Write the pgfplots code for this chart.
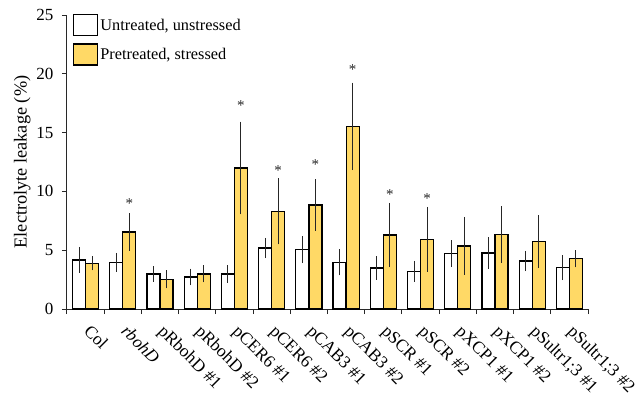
\documentclass[border=0pt]{standalone}
\usepackage{pgfplots}
\pgfplotsset{compat=1.18}
\usepackage{fontspec}
\setmainfont{Liberation Serif}
\definecolor{baryel}{RGB}{255,217,102}
\definecolor{axgray}{RGB}{40,40,40}
\begin{document}
\begin{tikzpicture}
\path[use as bounding box] (-67pt,-91pt) rectangle (573pt,309pt);
\begin{axis}[
  at={(0pt,0pt)}, anchor=south west,
  scale only axis,
  width=521pt, height=294pt,
  xmin=-0.5, xmax=13.5,
  ymin=0, ymax=25,
  ytick={0,5,10,15,20,25},
  axis lines*=left,
  axis line style={axgray, line width=1pt},
  tick align=outside,
  tick style={axgray, line width=1pt},
  major tick length=5pt,
  minor tick length=5pt,
  xtick={0,...,13},
  xticklabels={Col,\textit{rbohD},pRbohD \#1,pRbohD \#2,pCER6 \#1,pCER6 \#2,pCAB3 \#1,pCAB3 \#2,pSCR \#1,pSCR \#2,pXCP1 \#1,pXCP1 \#2,pSultr1;3 \#1,pSultr1;3 \#2},
  x tick style={draw=none},
  minor xtick={-0.5,0.5,...,13.5},
  minor x tick style={draw=axgray, line width=1pt},
  xticklabel style={rotate=-45, anchor=base west, font=\fontsize{17.5}{20}\selectfont, inner sep=0pt, xshift=10.8pt, yshift=-14.6pt},
  yticklabel style={font=\fontsize{17}{20}\selectfont, xshift=-5pt},
  /pgf/number format/assume math mode=true,
  ylabel={Electrolyte leakage (\%)},
  ylabel style={font=\fontsize{18.3}{21}\selectfont, yshift=-1pt},
  legend style={draw=none, fill=none, at={(rel axis cs:0,1)}, anchor=north west,
    xshift=6pt, yshift=1pt, font=\fontsize{16.3}{19}\selectfont, row sep=7pt, inner sep=0pt,
    cells={anchor=west}},
  legend image code/.code={\draw[#1, line width=1.2pt] (0pt,-10.5pt) rectangle (24pt,10.5pt);},
  error bars/y dir=both,
  error bars/y explicit,
  error bars/error bar style={line width=1pt, black!85},
  error bars/error mark options={mark size=3pt, line width=1pt, black!85},
]
\addplot[ybar, bar width=13pt, bar shift=0pt, fill=white, draw=black, line width=1.2pt]
coordinates {
(-0.175,4.17) +- (0,0.85)
(0.825,3.97) +- (0,0.55)
(1.825,2.98) +- (0,0.40)
(2.825,2.72) +- (0,0.45)
(3.825,2.98) +- (0,0.50)
(4.825,5.19) +- (0,0.60)
(5.825,5.04) +- (0,0.88)
(6.825,3.97) +- (0,0.85)
(7.825,3.49) +- (0,0.76)
(8.825,3.20) +- (0,0.63)
(9.825,4.70) +- (0,0.88)
(10.825,4.76) +- (0,1.10)
(11.825,4.08) +- (0,0.60)
(12.825,3.51) +- (0,0.79)
};
\addlegendentry{Untreated, unstressed}
\addplot[ybar, bar width=13pt, bar shift=0pt, fill=baryel, draw=black, line width=1.2pt]
coordinates {
(0.175,3.90) +- (0,0.35)
(1.175,6.55) +- (0,1.35)
(2.175,2.52) +- (0,0.50)
(3.175,2.98) +- (0,0.47)
(4.175,11.99) +- (0,3.68)
(5.175,8.30) +- (0,2.55)
(6.175,8.84) +- (0,1.93)
(7.175,15.53) +- (0,3.47)
(8.175,6.29) +- (0,2.47)
(9.175,5.92) +- (0,2.50)
(10.175,5.36) +- (0,2.21)
(11.175,6.34) +- (0,2.16)
(12.175,5.72) +- (0,1.98)
(13.175,4.28) +- (0,0.48)
};
\addlegendentry{Pretreated, stressed}
\addplot[only marks, mark=none, forget plot,
  nodes near coords={*},
  nodes near coords style={anchor=center, inner sep=0pt, font=\fontsize{15}{17}\selectfont, black!85}]
coordinates {
(1.175,9.0)
(4.175,17.26)
(5.175,11.73)
(6.175,12.24)
(7.175,20.4)
(8.175,9.7)
(9.175,9.35)
};
\end{axis}
\end{tikzpicture}
\end{document}
